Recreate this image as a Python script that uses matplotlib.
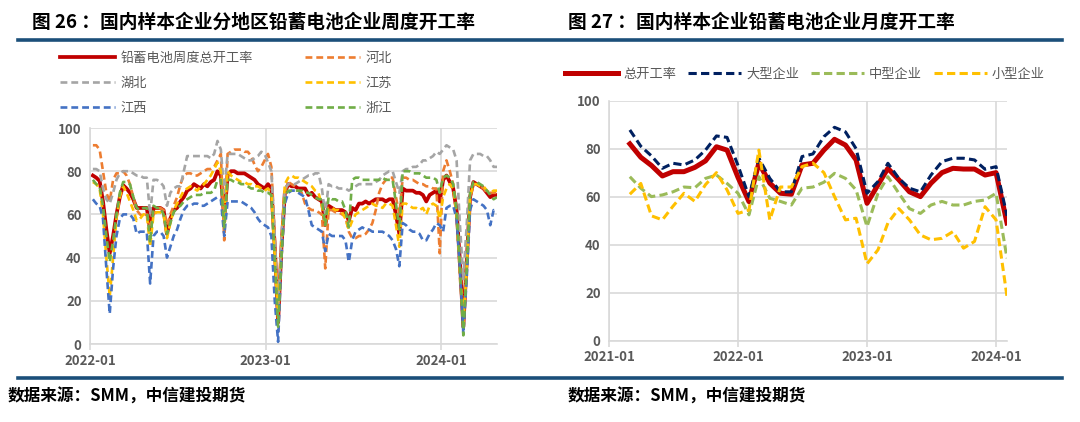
import matplotlib
matplotlib.use("Agg")
import matplotlib.pyplot as plt
import matplotlib.dates as mdates
from matplotlib.lines import Line2D
import pandas as pd

plt.rcParams['font.family'] = ['Noto Sans CJK SC', 'DejaVu Sans']

W, H = 1080, 422
GREY_TXT = "#595959"
GRID = "#D9D9D9"
RULE = "#1B4F7A"

# ---------------- 图26: weekly, by region ----------------
weeks = pd.date_range("2022-01-07", periods=121, freq="7D")

total_w = [78, 77, 75.5, 66, 53, 42, 50, 60, 68, 73.5,
           72, 70, 67, 63, 63, 63, 63, 53, 63, 63,
           63, 62, 51, 58, 62, 63, 66, 68, 71, 72,
           74, 73, 72, 74, 73, 75, 76, 80, 78, 58,
           78, 80, 80, 79, 79, 79, 78, 77, 76, 74,
           73, 72, 74, 72, 45, 10, 45, 70, 74, 73,
           73, 72, 72, 72, 69, 70, 68, 67, 66, 55,
           64, 63, 62, 62, 62, 61, 57, 63, 62, 65,
           65, 66, 65, 66, 67, 67, 67, 66, 67, 67,
           60, 51, 72, 71, 71, 71, 70, 70, 69, 66,
           69, 70, 71, 66, 76, 78, 75, 72, 62, 38,
           8, 38, 68, 75, 74, 73, 72, 70, 68, 69, 69]

hebei = [92, 92, 90, 80, 70, 66, 76, 79, 79, 80,
         78, 74, 68, 62, 60, 59, 60, 55, 60, 62,
         63, 62, 55, 60, 64, 68, 74, 78, 79, 79,
         78, 78, 79, 80, 81, 81, 82, 85, 88, 48,
         88, 89, 90, 90, 90, 89, 89, 87, 83, 80,
         82, 85, 88, 82, 50, 15, 45, 70, 75, 74,
         73, 71, 70, 65, 63, 62, 62, 61, 60, 35,
         62, 62, 61, 61, 60, 59, 52, 49, 49, 50,
         50, 51, 53, 56, 62, 70, 74, 76, 77, 77,
         68, 60, 77, 77, 76, 76, 75, 74, 74, 73,
         73, 72, 72, 42, 80, 85, 80, 74, 60, 30,
         12, 35, 68, 74, 74, 73, 72, 70, 70, 70, 70]

hubei = [81, 81, 80, 72, 67, 65, 70, 76, 79, 80,
         80, 80, 79, 78, 78, 77, 77, 60, 76, 76,
         75, 73, 64, 70, 72, 73, 73, 80, 87, 87,
         87, 87, 87, 87, 87, 86, 88, 94, 90, 70,
         88, 88, 88, 88, 87, 86, 85, 85, 86, 87,
         89, 88, 84, 80, 50, 15, 50, 72, 74, 74,
         74, 75, 76, 77, 78, 78, 79, 79, 72, 60,
         74, 73, 73, 72, 72, 72, 71, 72, 73, 74,
         74, 74, 74, 74, 75, 76, 78, 79, 80, 80,
         75, 70, 80, 81, 81, 82, 82, 83, 85, 85,
         86, 87, 89, 88, 90, 92, 91, 90, 85, 55,
         30, 55, 85, 88, 88, 88, 87, 87, 85, 82, 82]

jiangsu = [75, 74, 72, 60, 40, 22, 40, 58, 68, 73,
           70, 66, 62, 57, 58, 60, 60, 45, 60, 61,
           61, 60, 49, 56, 62, 65, 68, 71, 72, 73,
           72, 71, 73, 74, 76, 78, 81, 84, 80, 56,
           80, 78, 77, 76, 75, 75, 74, 74, 73, 73,
           72, 71, 72, 70, 40, 12, 45, 74, 77, 78,
           77, 77, 76, 75, 74, 73, 71, 70, 64, 55,
           63, 63, 62, 62, 61, 58, 53, 57, 60, 61,
           62, 63, 64, 65, 64, 64, 63, 65, 65, 64,
           55, 45, 65, 65, 64, 63, 63, 62, 63, 60,
           64, 65, 64, 58, 68, 72, 74, 72, 60, 35,
           10, 35, 68, 74, 74, 73, 73, 71, 70, 71, 71]

jiangxi = [67, 65, 64, 58, 35, 14, 35, 50, 58, 60,
           60, 60, 58, 51, 52, 52, 52, 28, 50, 52,
           52, 50, 40, 45, 50, 53, 58, 62, 64, 64,
           65, 65, 64, 64, 65, 66, 67, 68, 67, 50,
           66, 66, 66, 66, 66, 65, 64, 63, 61, 58,
           56, 55, 54, 50, 20, 1, 40, 65, 70, 71,
           71, 70, 69, 68, 62, 55, 54, 53, 52, 43,
           51, 50, 50, 50, 50, 48, 38, 48, 52, 53,
           54, 53, 53, 52, 52, 52, 52, 51, 50, 48,
           44, 36, 56, 55, 53, 52, 52, 51, 48, 48,
           51, 53, 56, 55, 52, 63, 64, 64, 58, 35,
           5, 30, 62, 67, 66, 65, 64, 62, 55, 62, 61]

zhejiang = [76, 74, 73, 64, 50, 38, 48, 60, 70, 75,
            75, 74, 68, 63, 62, 63, 63, 47, 64, 63,
            63, 60, 51, 56, 61, 63, 64, 66, 67, 68,
            69, 69, 69, 70, 70, 70, 71, 76, 76, 54,
            76, 76, 75, 75, 74, 74, 73, 72, 72, 71,
            71, 70, 70, 69, 40, 8, 40, 68, 71, 71,
            71, 71, 71, 70, 70, 69, 68, 67, 67, 55,
            68, 67, 67, 66, 66, 62, 54, 76, 77, 77,
            76, 76, 76, 76, 76, 76, 77, 76, 76, 76,
            65, 53, 80, 80, 80, 79, 79, 79, 78, 77,
            77, 77, 76, 70, 77, 78, 77, 74, 62, 35,
            4, 35, 70, 75, 75, 74, 73, 71, 69, 67, 68]

# ---------------- 图27: monthly, by size ----------------
months = pd.date_range("2021-03-01", periods=36, freq="MS")

total_m = [82, 76.4, 73, 68.6, 70.4, 70.4, 72.2, 74.9, 80.8, 79.4,
           68, 57.9, 74, 65.6, 61.4, 61, 73.2, 73.9, 79.4, 83.9,
           81.5, 75.3, 57.2, 64.9, 71.8, 67, 62, 60, 65.6, 70,
           71.8, 71.5, 71.5, 69, 70, 49]
large = [87.8, 81, 77, 71.8, 73.9, 73.2, 75.3, 79.4, 85.3, 84.7,
         73, 60, 76, 67.6, 62, 62, 76.7, 77.8, 85, 88.9,
         87, 80, 61.4, 66.3, 73.9, 67.6, 63.5, 62, 69, 74.6,
         76, 76, 75.3, 71.4, 72.5, 52]
medium = [68.3, 63.5, 60, 60.7, 62, 64, 63.7, 67.6, 69, 65.5,
          61.4, 52.4, 68.3, 59.3, 58, 56.5, 63.5, 64, 66, 69.7,
          67.6, 62.8, 47.5, 61.4, 68.3, 61.4, 55, 53, 56.5, 58,
          56.5, 56.5, 58, 58.6, 61.4, 34.3]
small = [61, 65.5, 52, 50.3, 56, 61.4, 58, 65, 70, 62.8,
         53, 54.4, 79.4, 50.3, 64, 64, 72.5, 74, 70, 60,
         50.3, 51, 32, 37.8, 49, 55, 50.3, 44, 42, 42.6,
         45.4, 38.5, 41.3, 55.8, 50.3, 18.3]


def px_axes(fig, x0, y0, x1, y1):
    return fig.add_axes([x0 / W, 1 - y1 / H, (x1 - x0) / W, (y1 - y0) / H])


def style_axes(ax, start, end, years):
    ax.set_ylim(0, 100)
    ax.set_yticks(range(0, 101, 20))
    ax.set_xlim(pd.Timestamp(start), pd.Timestamp(end))
    ax.set_xticks([pd.Timestamp(f"{y}-01-01") for y in years])
    ax.xaxis.set_major_formatter(mdates.DateFormatter("%Y-%m"))
    ax.grid(True, color=GRID, linewidth=1.2)
    ax.set_axisbelow(True)
    for s in ("top", "right"):
        ax.spines[s].set_visible(False)
    for s in ("left", "bottom"):
        ax.spines[s].set_color(GRID)
        ax.spines[s].set_linewidth(1.2)
    ax.tick_params(axis="y", length=0, pad=6, labelsize=9.5, labelcolor=GREY_TXT)
    ax.tick_params(axis="x", length=4, color=GRID, width=1.2, pad=3,
                   labelsize=9.5, labelcolor=GREY_TXT)
    for lab in ax.get_xticklabels() + ax.get_yticklabels():
        lab.set_fontweight("bold")


fig = plt.figure(figsize=(W / 100, H / 100), dpi=100)

# titles and rules
fig.text(32 / W, 1 - 22 / H, "图 26 ：国内样本企业分地区铅蓄电池企业周度开工率",
         fontsize=13.5, fontweight="bold", va="center")
fig.text(568 / W, 1 - 22 / H, "图 27 ：国内样本企业铅蓄电池企业月度开工率",
         fontsize=13.5, fontweight="bold", va="center")
for y in (40, 378):
    fig.add_artist(Line2D([18 / W, 1062 / W], [1 - y / H] * 2, color=RULE, linewidth=2.6))
fig.text(8 / W, 1 - 397 / H, "数据来源：SMM，中信建投期货", fontsize=12,
         fontweight="bold", style="italic", va="center")
fig.text(568 / W, 1 - 397 / H, "数据来源：SMM，中信建投期货", fontsize=12,
         fontweight="bold", style="italic", va="center")

# ---- left chart ----
ax1 = px_axes(fig, 90, 128, 497, 344)
dash = dict(linewidth=1.9, dashes=(2.6, 1.5))
l_tot, = ax1.plot(weeks, total_w, color="#C00000", linewidth=2.7, zorder=2)
l_hb, = ax1.plot(weeks, hebei, color="#ED7D31", zorder=3, **dash)
l_hub, = ax1.plot(weeks, hubei, color="#A5A5A5", zorder=4, **dash)
l_js, = ax1.plot(weeks, jiangsu, color="#FFC000", zorder=5, **dash)
l_jx, = ax1.plot(weeks, jiangxi, color="#4472C4", zorder=6, **dash)
l_zj, = ax1.plot(weeks, zhejiang, color="#70AD47", zorder=7, **dash)
style_axes(ax1, "2022-01-01", "2024-04-26", [2022, 2023, 2024])

fig.legend([l_tot, l_hub, l_jx, l_hb, l_js, l_zj],
           ["铅蓄电池周度总开工率", "湖北", "江西", "河北", "江苏", "浙江"],
           ncol=2, loc="upper left", bbox_to_anchor=(60 / W, 1 - 52 / H),
           frameon=False, fontsize=9.5, labelcolor=GREY_TXT,
           handlelength=4.2, handletextpad=0.4, columnspacing=3.9,
           labelspacing=0.9, borderpad=0, borderaxespad=0)

# ---- right chart ----
ax2 = px_axes(fig, 609, 100.7, 1007, 340.5)
dash2 = dict(linewidth=2.2, dashes=(2.7, 1.4))
r_tot, = ax2.plot(months, total_m, color="#C00000", linewidth=3.6, zorder=2)
r_l, = ax2.plot(months, large, color="#002060", zorder=3, **dash2)
r_m, = ax2.plot(months, medium, color="#9BBB59", zorder=4, **dash2)
r_s, = ax2.plot(months, small, color="#FFC000", zorder=5, **dash2)
style_axes(ax2, "2021-01-01", "2024-02-01", [2021, 2022, 2023, 2024])

fig.legend([r_tot, r_l, r_m, r_s], ["总开工率", "大型企业", "中型企业", "小型企业"],
           ncol=4, loc="upper left", bbox_to_anchor=(565 / W, 1 - 68 / H),
           frameon=False, fontsize=9.5, labelcolor=GREY_TXT,
           handlelength=4.0, handletextpad=0.4, columnspacing=0.9,
           borderpad=0, borderaxespad=0)

fig.savefig("out.png", dpi=100)
